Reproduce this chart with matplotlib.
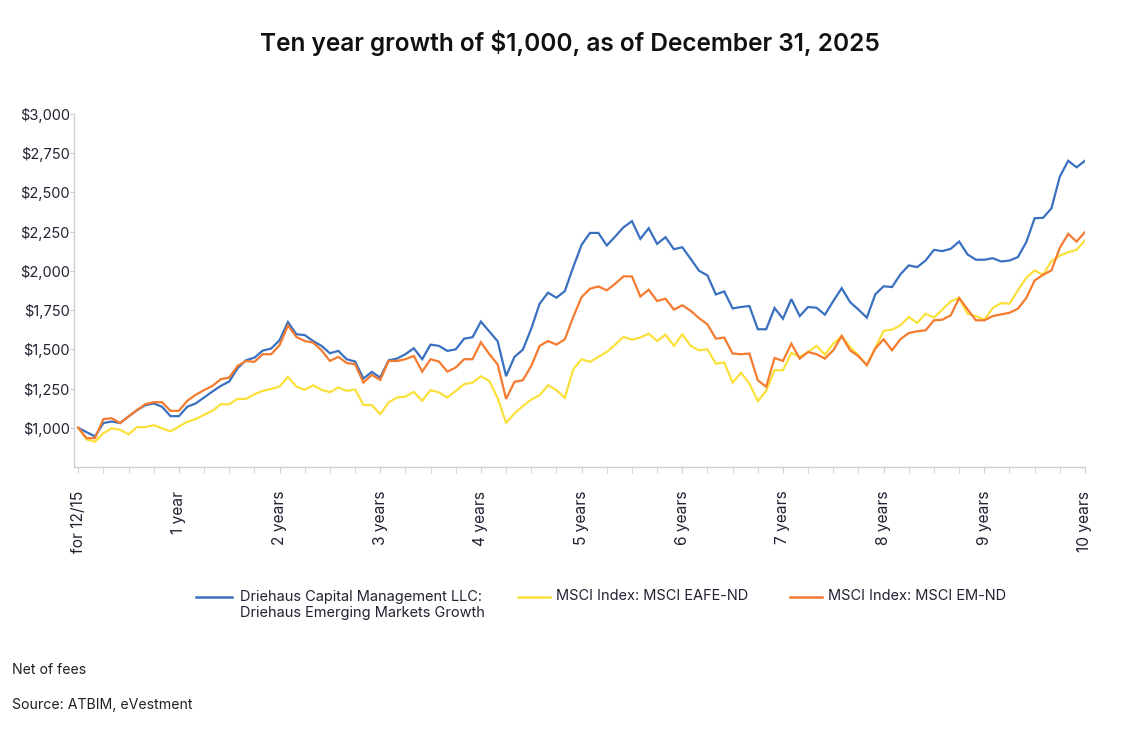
import matplotlib
matplotlib.use("Agg")
import matplotlib.pyplot as plt
from matplotlib.lines import Line2D

plt.rcParams['font.family'] = ['Inter', 'DejaVu Sans']

# monthly values, 12/15 .. 12/25
months = list(range(121))

driehaus = [1000, 972, 945, 1030, 1040, 1030, 1072, 1112, 1144, 1155, 1134, 1074, 1074,
            1134, 1155, 1193, 1231, 1267, 1295, 1380, 1430, 1447, 1492, 1505, 1558,
            1674, 1596, 1591, 1553, 1522, 1475, 1490, 1437, 1422, 1314, 1356, 1320,
            1430, 1441, 1469, 1507, 1437, 1530, 1522, 1490, 1500, 1568, 1577, 1677,
            1614, 1551, 1329, 1452, 1498, 1632, 1791, 1861, 1829, 1871, 2024, 2166,
            2242, 2242, 2162, 2219, 2278, 2317, 2204, 2272, 2172, 2215, 2138, 2151,
            2077, 2001, 1971, 1850, 1869, 1761, 1770, 1776, 1628, 1628, 1763, 1695,
            1820, 1712, 1770, 1765, 1721, 1808, 1890, 1801, 1753, 1702, 1850, 1902,
            1897, 1978, 2035, 2024, 2066, 2134, 2126, 2141, 2187, 2105, 2071, 2071,
            2081, 2060, 2066, 2088, 2183, 2336, 2338, 2399, 2601, 2702, 2660, 2702]

eafe = [1000, 926, 911, 966, 996, 987, 958, 1004, 1004, 1017, 996, 977, 1008,
        1038, 1055, 1083, 1108, 1150, 1150, 1184, 1184, 1214, 1235, 1248, 1263,
        1324, 1263, 1242, 1271, 1242, 1227, 1257, 1235, 1244, 1146, 1144, 1087,
        1161, 1193, 1199, 1229, 1172, 1240, 1225, 1193, 1235, 1278, 1288, 1328,
        1299, 1187, 1032, 1091, 1138, 1180, 1208, 1271, 1240, 1191, 1373, 1437,
        1420, 1452, 1483, 1530, 1579, 1562, 1575, 1600, 1553, 1594, 1522, 1596,
        1522, 1494, 1500, 1409, 1416, 1288, 1350, 1282, 1170, 1235, 1367, 1367,
        1477, 1452, 1483, 1522, 1466, 1536, 1585, 1515, 1462, 1399, 1509, 1618,
        1626, 1653, 1706, 1668, 1727, 1702, 1753, 1806, 1827, 1727, 1712, 1689,
        1763, 1795, 1791, 1876, 1956, 2003, 1975, 2062, 2098, 2119, 2134, 2194]

em = [1000, 934, 934, 1055, 1061, 1030, 1072, 1112, 1150, 1163, 1163, 1108, 1108,
      1172, 1210, 1240, 1267, 1310, 1320, 1394, 1426, 1420, 1469, 1469, 1526,
      1652, 1579, 1553, 1543, 1494, 1426, 1452, 1413, 1405, 1288, 1337, 1305,
      1426, 1426, 1437, 1458, 1358, 1437, 1422, 1358, 1384, 1437, 1437, 1545,
      1470, 1403, 1184, 1293, 1303, 1394, 1522, 1553, 1530, 1564, 1706, 1833,
      1886, 1901, 1876, 1918, 1965, 1965, 1837, 1880, 1808, 1823, 1753, 1781,
      1746, 1699, 1659, 1568, 1575, 1473, 1469, 1473, 1303, 1261, 1445, 1426,
      1536, 1441, 1483, 1469, 1441, 1494, 1585, 1494, 1456, 1399, 1505, 1564,
      1494, 1565, 1604, 1615, 1621, 1685, 1689, 1717, 1827, 1755, 1685, 1685,
      1712, 1723, 1733, 1759, 1827, 1939, 1975, 2003, 2147, 2236, 2187, 2247]

series_names = ["Driehaus Capital Management LLC:\nDriehaus Emerging Markets Growth",
                "MSCI Index: MSCI EAFE-ND",
                "MSCI Index: MSCI EM-ND"]
colors = ['#3a70c0', '#fbe03c', '#f47b30']

year_ticks = [0, 12, 24, 36, 48, 60, 72, 84, 96, 108, 120]
year_labels = ["for 12/15", "1 year", "2 years", "3 years", "4 years", "5 years",
               "6 years", "7 years", "8 years", "9 years", "10 years"]
y_ticks = [1000, 1250, 1500, 1750, 2000, 2250, 2500, 2750, 3000]

W, H = 1131, 733
fig = plt.figure(figsize=(W / 100, H / 100), dpi=100)
ax = fig.add_axes([74 / W, 1 - 467 / H, (1085 - 74) / W, (467 - 114) / H])

for vals, c in zip([driehaus, eafe, em], colors):
    ax.plot(months, vals, color=c, lw=1.6, solid_joinstyle='miter')

ax.set_xlim(-0.5, 120)
ax.set_ylim(750, 3000)
ax.set_yticks(y_ticks, [f"${v:,}" for v in y_ticks])
ax.set_xticks(year_ticks, year_labels, rotation=90, va='top', ha='center')
ax.set_xticks(range(0, 121, 3), minor=True)

for s in ['top', 'right']:
    ax.spines[s].set_visible(False)
for s in ['left', 'bottom']:
    ax.spines[s].set_color('#cfcfcf')
    ax.spines[s].set_linewidth(1)
ax.tick_params(axis='y', length=3, color='#cfcfcf', labelsize=10.5,
               labelcolor='#222233', pad=0)
ax.tick_params(axis='x', which='both', length=4, color='#cfcfcf', labelsize=11.2,
               labelcolor='#222233', pad=13)
ax.tick_params(axis='x', which='minor', length=4)

fig.text(570 / W, 1 - 43 / H, "Ten year growth of $1,000, as of December 31, 2025",
         ha='center', va='center', fontsize=17.6, fontweight='semibold', color='#111111')

# legend drawn by hand so the blue handle sits on the first text line
handles = [(196, 232, 240), (518, 550, 556), (790, 822, 828)]
for (x0, x1, xt), c, name in zip(handles, colors, series_names):
    fig.add_artist(Line2D([x0 / W, x1 / W], [1 - 597 / H] * 2, color=c, lw=1.8,
                          transform=fig.transFigure))
    fig.text(xt / W, 1 - 589.5 / H, name, ha='left', va='top', fontsize=10.5,
             color='#222233', linespacing=1.25)

fig.text(12 / W, 1 - 670 / H, "Net of fees", ha='left', va='center',
         fontsize=10.2, color='#222222')
fig.text(12 / W, 1 - 705 / H, "Source: ATBIM, eVestment", ha='left', va='center',
         fontsize=10.2, color='#222222')

fig.savefig("out.png", dpi=100)
